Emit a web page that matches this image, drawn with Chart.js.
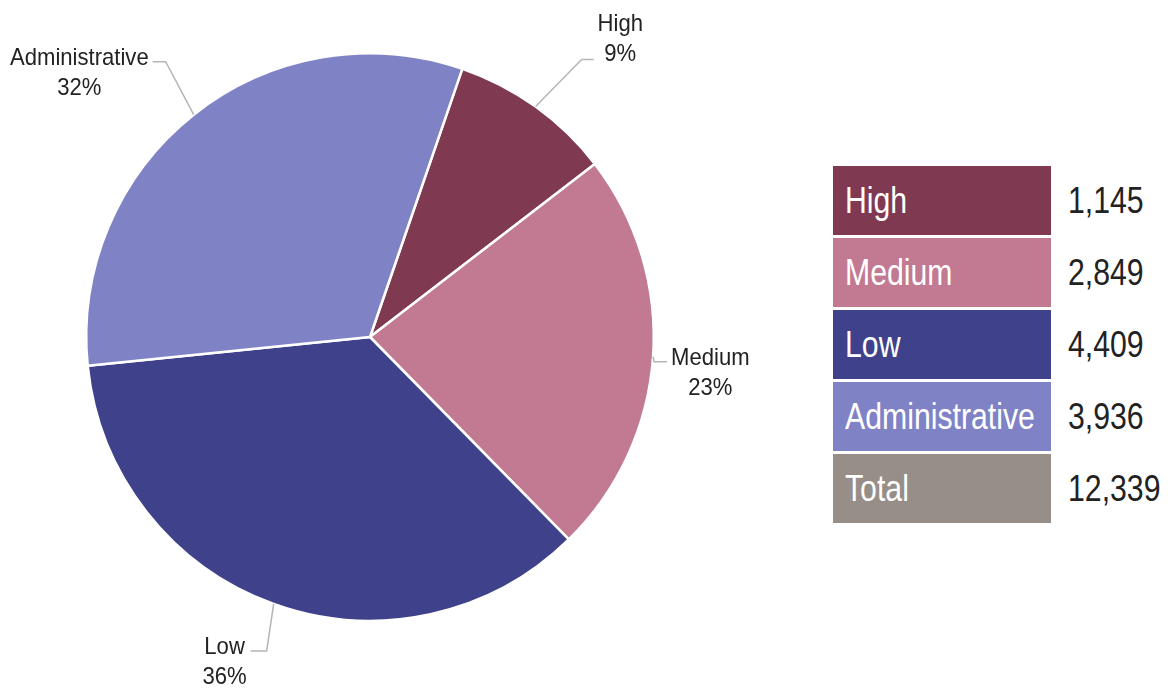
<!DOCTYPE html>
<html>
<head>
<meta charset="utf-8">
<script src="https://cdn.jsdelivr.net/npm/chart.js@4"></script>
<style>
  body { margin: 0; background: #fff; font-family: "Liberation Sans", Arial, sans-serif; }
  #wrap { position: absolute; left: 0; top: 0; width: 760px; height: 692px; }
  #table { position: absolute; left: 833px; top: 166px; display: flex; flex-direction: column; gap: 3px; }
  .row { display: flex; height: 69px; align-items: center; }
  .lab { width: 206px; height: 69px; padding-left: 12px; color: #fff; font-size: 36px; display: flex; align-items: center; white-space: nowrap; }
  .val { padding-left: 17px; font-size: 36px; color: #222; white-space: nowrap; }
  .narrow { display: inline-block; transform: scaleX(0.84); transform-origin: left center; }
</style>
</head>
<body>
<div id="wrap"><canvas id="myChart"></canvas></div>
<div id="table"></div>
<script>
const categories = ["High", "Medium", "Low", "Administrative"];
const counts = [1145, 2849, 4409, 3936];
const totalLabel = "Total";

const colors = ["#7f3a52", "#c17a91", "#3f428a", "#7f83c6"];
const totalColor = "#968e87";
const FONT = "'Liberation Sans', Arial, sans-serif";

const total = counts.reduce((acc, curr) => acc + curr, 0);

// table on the right
const table = document.getElementById("table");
function addRow(label, value, color) {
  const row = document.createElement("div");
  row.className = "row";
  row.innerHTML =
    '<div class="lab" style="background:' + color + '"><span class="narrow">' + label + "</span></div>" +
    '<div class="val"><span class="narrow">' + value.toLocaleString("en-US") + "</span></div>";
  table.appendChild(row);
}
categories.forEach((c, i) => addRow(c, counts[i], colors[i]));
addRow(totalLabel, total, totalColor);

// labels outside the pie with leader lines
const calloutLabels = {
  id: "calloutLabels",
  afterDatasetsDraw(chart, args, opts) {
    const ctx = chart.ctx;
    const meta = chart.getDatasetMeta(0);
    const values = chart.data.datasets[0].data;
    const sum = values.reduce((a, b) => a + b, 0);
    ctx.save();
    ctx.font = opts.size + "px " + FONT;
    meta.data.forEach((arc, i) => {
      const p = arc.getProps(["x", "y", "startAngle", "endAngle", "outerRadius"], true);
      const mid = (p.startAngle + p.endAngle) / 2;
      const cos = Math.cos(mid), sin = Math.sin(mid);
      const ex = p.x + cos * p.outerRadius;
      const ey = p.y + sin * p.outerRadius;
      const [dx, dy] = opts.elbow[i];
      const bx = ex + dx;
      const by = ey + dy;
      const right = cos >= 0;
      const hx = bx + (right ? 1 : -1) * opts.tail[i];

      ctx.strokeStyle = "#b5b5b5";
      ctx.lineWidth = 1.5;
      ctx.beginPath();
      ctx.moveTo(ex, ey);
      ctx.lineTo(bx, by);
      ctx.lineTo(hx, by);
      ctx.stroke();

      const lines = [chart.data.labels[i], Math.round((values[i] / sum) * 100) + "%"];
      const w = Math.max(...lines.map((t) => ctx.measureText(t).width)) * opts.squeeze;
      const cx = right ? hx + opts.gap + w / 2 : hx - opts.gap - w / 2;
      // High hangs its last line on the leader, the others their first line
      const base0 = opts.hang[i] ? by + 1 - opts.lineHeight : by + 3;
      ctx.fillStyle = "#222";
      ctx.textAlign = "center";
      ctx.textBaseline = "alphabetic";
      lines.forEach((t, k) => {
        ctx.save();
        ctx.translate(cx, base0 + k * opts.lineHeight);
        ctx.scale(opts.squeeze, 1);
        ctx.fillText(t, 0, 0);
        ctx.restore();
      });
    });
    ctx.restore();
  },
};

const data = {
  labels: categories,
  datasets: [
    {
      data: counts,
      backgroundColor: colors,
      borderColor: "#ffffff",
      borderWidth: 2.5,
    },
  ],
};

const config = {
  type: "pie",
  data: data,
  plugins: [calloutLabels],
  options: {
    responsive: true,
    maintainAspectRatio: false,
    animation: false,
    rotation: 19,
    layout: {
      padding: { left: 85, right: 105, top: 52, bottom: 70 },
    },
    plugins: {
      legend: { display: false },
      tooltip: { enabled: false },
      calloutLabels: {
        size: 24,
        squeeze: 0.92,
        lineHeight: 30,
        elbow: [[46, -47], [1, 5], [-7, 47], [-28, -53]],
        tail: [12, 13, 16, 13],
        hang: [true, false, false, false],
        gap: 4,
      },
    },
  },
};

var myChart = new Chart(document.getElementById("myChart"), config);
</script>
</body>
</html>
